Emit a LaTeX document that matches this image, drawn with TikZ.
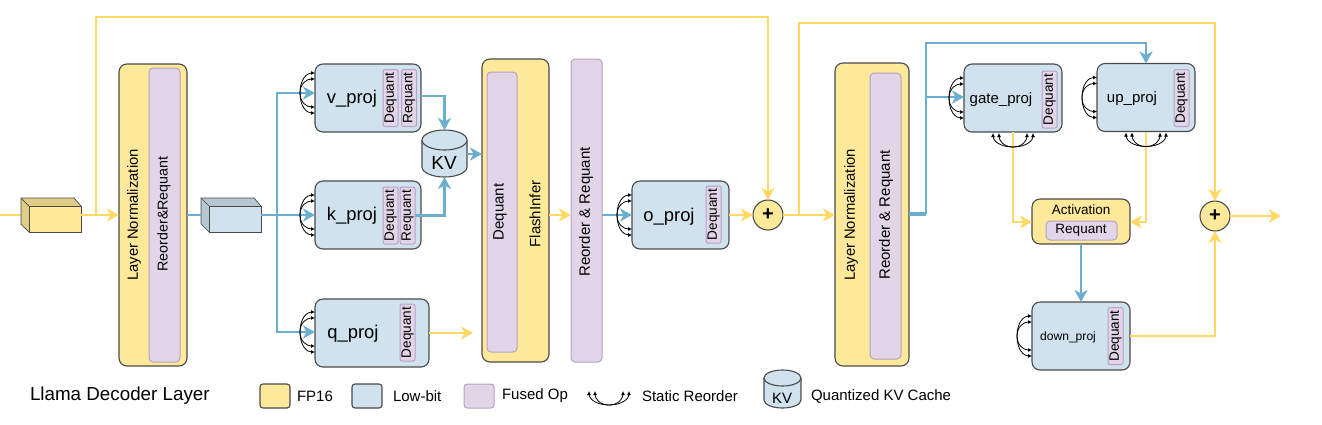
\documentclass[tikz,border=0pt]{standalone}
\usepackage{fontspec}
\setmainfont{Liberation Sans}
\usetikzlibrary{arrows.meta}

\definecolor{fpfill}{HTML}{FEE99A}
\definecolor{lowfill}{HTML}{CFE2EE}
\definecolor{opfill}{HTML}{E1D5E7}
\definecolor{opline}{HTML}{B7A2C6}
\definecolor{boxline}{HTML}{4A4A4A}
\definecolor{yline}{HTML}{FFD966}
\definecolor{bline}{HTML}{6BAED0}

\tikzset{
  fp/.style={draw=boxline, line width=1.1pt, fill=fpfill, rounded corners=8pt},
  lowbit/.style={draw=boxline, line width=1.1pt, fill=lowfill, rounded corners=8pt},
  op/.style={draw=opline, line width=1pt, fill=opfill, rounded corners=4pt},
  chip/.style={op, rotate=90, rounded corners=2pt, minimum width=57, minimum height=15, font=\fontsize{13.6}{15}\selectfont},
  vtxt/.style={rotate=90},
  big/.style={font=\fontsize{18.4}{20}\selectfont},
  yarrow/.style={draw=yline, line width=2.8pt, -{Stealth[length=12pt,width=13pt,inset=3.5pt]}},
  barrow/.style={draw=bline, line width=2.8pt, -{Stealth[length=12pt,width=13pt,inset=3.5pt]}},
  yplain/.style={draw=yline, line width=2.8pt},
  bplain/.style={draw=bline, line width=2.8pt},
  arc/.style={draw=black, line width=0.8pt, -{Latex[length=4pt,width=4pt]}},
  plus/.style={circle, draw=boxline, line width=1.1pt, fill=fpfill, minimum size=30, font=\fontsize{20}{20}\selectfont\bfseries},
  lgd/.style={anchor=west, font=\fontsize{15}{17}\selectfont}
}

% box drawn in front with its top and left side behind
\newcommand{\cube}[5]{
  \fill[#5, draw=boxline, line width=0.7pt] (#2-8,#3-8) -- (#2+45,#3-8) -- (#2+52,#3) -- (#2+52,#3+26) -- (#2,#3+26) -- (#2-8,#3+18) -- cycle;
  \node(#1)[draw=boxline, line width=0.8pt, fill=#4, minimum width=52, minimum height=26, anchor=north west] at (#2,#3) {};
  \draw[boxline, line width=0.7pt] (#2-8,#3-8) -- (#1.north west);
}
% can shape: centre x, top y, bottom y, half width, ellipse height
\newcommand{\can}[6]{
  \node(#1)[minimum width=2*#4, minimum height=#3-#2] at (#6,#2/2+#3/2) {};
  \draw[draw=boxline, line width=1.1pt, fill=lowfill] (#6-#4,#2+#5) -- (#6-#4,#3-#5) arc[start angle=180, end angle=360, x radius=#4pt, y radius=#5pt] -- (#6+#4,#2+#5);
  \draw[draw=boxline, line width=1.1pt, fill=lowfill] (#6,#2+#5) ellipse[x radius=#4pt, y radius=#5pt];
}
% reorder arcs on the left of a box, and under a box
\newcommand{\reorderl}[1]{
  \begin{scope}[shift={(#1)}]
  \foreach \d in {-20,-14,14,20}
    \draw[arc] (-15,0) .. controls (-15,0.7*\d) and (-8,\d) .. (0,\d);
  \end{scope}
}
\newcommand{\reorderb}[1]{
  \begin{scope}[shift={(#1)}]
  \foreach \d in {-20,-14,14,20}
    \draw[arc] (0,15) .. controls (0.7*\d,15) and (\d,8) .. (\d,1);
  \end{scope}
}

\begin{document}
\begin{tikzpicture}[x=1pt,y=-1pt,inner sep=0pt,outer sep=0pt,font=\fontsize{15}{17}\selectfont]
\useasboundingbox (0,0) rectangle (1322,424);

% first half of the layer
\coordinate(start) at (0,215);
\coordinate(tap) at (96,215);
\coordinate(topa) at (96,17);
\coordinate(split) at (277,215);
\coordinate(vin) at (315,93);
\coordinate(qin) at (315,332);
\draw[yplain] (start) -- (30,215);
\cube{inp}{29}{206}{fpfill}{fpfill!88!black}
\node(lna)[fp, minimum width=68, minimum height=302] at (153,215) {};
\node(ropa)[op, minimum width=31, minimum height=294] at (164.5,215) {};
\node(lnatxt)[vtxt] at (134,215) {\fontsize{14.8}{17}\selectfont Layer Normalization};
\node(ropatxt)[vtxt] at (164,214) {\fontsize{14.3}{17}\selectfont Reorder\&Requant};
\draw[yarrow] (inp.east |- start) -- (lna.west |- start);
\cube{hid}{209}{206}{lowfill}{lowfill!88!black}
\draw[bplain] (lna.east |- start) -- (201,215);

\node(v)[lowbit, minimum width=106, minimum height=68] at (368,98) {};
\node(k)[lowbit, minimum width=106, minimum height=68] at (368,215) {};
\node(q)[lowbit, minimum width=114, minimum height=68] at (372,333) {};
\node(vdq)[chip] at (390.5,98) {Dequant};
\node(vrq)[chip] at (409,98) {Requant};
\node(kdq)[chip] at (390.5,215.5) {Dequant};
\node(krq)[chip] at (407.5,215.5) {Requant};
\node(qdq)[chip] at (407.5,332.5) {Dequant};
\node(vtxt)[big] at (352,99) {v\_proj};
\node(ktxt)[big] at (352,216) {k\_proj};
\node(qtxt)[big] at (353,334) {q\_proj};

\draw[barrow] (hid.east |- start) -- (k.west |- start);
\draw[barrow] (split) |- (vin);
\draw[barrow] (split) |- (qin);
\reorderl{vin}
\reorderl{k.west}
\reorderl{qin}

\can{kv}{130}{177}{22.5}{10}{444.5}
\node(kvtxt)[font=\fontsize{19}{20}\selectfont] at (444,163) {KV};
\draw[barrow] ([yshift=2pt]v.east) -| (kv.north);
\draw[barrow] (krq.south) -| (kv.south);

\node(fi)[fp, minimum width=67, minimum height=303] at (515.5,210.5) {};
\node(fidq)[op, minimum width=30, minimum height=280] at (502,212) {};
\node(fidqtxt)[vtxt] at (500,212) {Dequant};
\node(fitxt)[vtxt] at (535,214) {FlashInfer};
\node(ropb)[op, minimum width=31, minimum height=303] at (586.5,210.5) {};
\node(ropbtxt)[vtxt] at (586,212) {Reorder \& Requant};
\coordinate(qout) at (473,333);
\draw[yarrow] (q.east) -- (qout);
\draw[barrow] (kv.east |- 0,154) -- (fi.west |- 0,154);
\draw[yarrow] (fi.east |- start) -- (ropb.west |- start);

\node(o)[lowbit, minimum width=97, minimum height=68] at (680.5,215) {};
\node(odq)[chip] at (713.5,214.5) {Dequant};
\node(otxt)[big] at (669,217) {o\_proj};
\draw[barrow] (ropb.east |- start) -- (o.west);
\reorderl{o.west}

\node(plusa)[plus] at (768,215) {+};
\draw[yarrow] (o.east) -- (plusa.west);
\draw[yarrow] (tap) -- (topa) -| (plusa.north);

% second half of the layer
\coordinate(tapb) at (799,215);
\coordinate(topb) at (799,23);
\node(lnb)[fp, minimum width=74, minimum height=303] at (872,214.5) {};
\node(ropc)[op, minimum width=31, minimum height=286] at (885.5,216) {};
\node(lnbtxt)[vtxt] at (851,215) {\fontsize{14.8}{17}\selectfont Layer Normalization};
\node(ropctxt)[vtxt] at (886,215) {Reorder \& Requant};
\draw[yarrow] (plusa.east) -- (lnb.west |- start);

\node(gate)[lowbit, minimum width=98, minimum height=68] at (1013,98) {};
\node(up)[lowbit, minimum width=98, minimum height=68] at (1146,97.5) {};
\node(down)[lowbit, minimum width=98, minimum height=68] at (1081,336) {};
\node(act)[fp, minimum width=98, minimum height=45] at (1081,221.5) {};
\node(actop)[op, minimum width=71, minimum height=19] at (1081.5,230.5) {};
\node(acttxt)[font=\fontsize{13.5}{15}\selectfont] at (1081,210) {Activation};
\node(actoptxt)[font=\fontsize{13.5}{15}\selectfont] at (1081,230) {Requant};
\node(gatedq)[chip] at (1049.5,99.5) {Dequant};
\node(updq)[chip] at (1181.5,98) {Dequant};
\node(downdq)[chip] at (1115.5,336) {Dequant};
\node(gatetxt) at (1001,100) {gate\_proj};
\node(uptxt) at (1132,99) {up\_proj};
\node(downtxt)[font=\fontsize{12.1}{14}\selectfont] at (1068,337) {down\_proj};

\node(plusb)[plus] at (1215,216) {+};
\coordinate(endp) at (1281,216);
\coordinate(bend) at (926,214);
\coordinate(toph) at (926,43);
\coordinate(gatein) at (926,97);
\draw[yarrow] (tapb) -- (topb) -| (plusb.north);
\draw[yarrow] (plusb.east) -- (endp);
\draw[yarrow] (down.east) -| (plusb.south);
\draw[bplain, line width=4pt] (lnb.east |- bend) -- (bend);
\draw[barrow] (bend) -- (toph) -| (up.north);
\draw[barrow] (gatein) -- (gate.west |- gatein);
\draw[yarrow] (gate.south) |- (act.west |- 0,222);
\draw[yarrow] (up.south) |- (act.east |- 0,222);
\draw[barrow] (act.south) -- (down.north);
\reorderl{gate.west}
\reorderl{up.west}
\reorderl{down.west}
\reorderb{gate.south}
\reorderb{up.south}

% legend
\node(title)[anchor=west, font=\fontsize{18.8}{20}\selectfont] at (30,396) {Llama Decoder Layer};
\node(lfp)[fp, rounded corners=3pt, minimum width=30, minimum height=24] at (275,396) {};
\node(lfptxt)[lgd] at (297,396) {FP16};
\node(llow)[lowbit, rounded corners=3pt, minimum width=30, minimum height=24] at (367,396) {};
\node(llowtxt)[lgd] at (393,396) {Low-bit};
\node(lop)[op, rounded corners=3pt, minimum width=30, minimum height=24] at (479,396) {};
\node(loptxt)[lgd] at (502,396) {Fused Op};
\coordinate(larc) at (609,390);
\reorderb{larc}
\node(larctxt)[lgd] at (642,396) {Static Reorder};
\can{lkv}{370}{408}{18.5}{8}{782.5}
\node(lkvtxt)[font=\fontsize{15}{16}\selectfont] at (782,398) {KV};
\node(lkvname)[lgd] at (811,396) {Quantized KV Cache};

\end{tikzpicture}
\end{document}
